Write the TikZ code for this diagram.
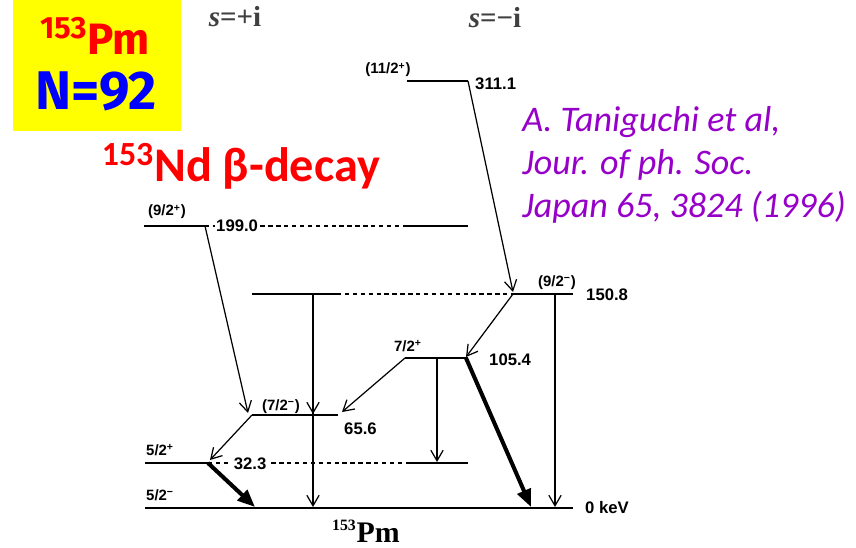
\documentclass[tikz,border=0pt]{standalone}
\usepackage{fontspec}
\setmainfont{Liberation Serif}
\newfontfamily\arialf{Liberation Sans}
\newfontfamily\calib{Carlito}
\newfontfamily\fira{Fira Sans}
\usetikzlibrary{arrows.meta}
\definecolor{citepurple}{RGB}{150,0,200}
\definecolor{boxyellow}{RGB}{255,255,0}

\begin{document}
\begin{tikzpicture}[x=0.02cm,y=-0.02cm,
  lev/.style={line width=1.1pt},
  dlev/.style={line width=0.6pt,dash pattern=on 2.5pt off 2pt},
  gam/.style={line width=0.7pt,-{Straight Barb[length=6pt,width=7pt]}},
  gamthick/.style={line width=2.3pt,-{Triangle[length=10pt,width=8pt]}},
  en/.style={font=\arialf\bfseries\fontsize{9.5}{10}\selectfont,inner sep=0.5pt,anchor=west},
  jp/.style={font=\arialf\bfseries\fontsize{8.5}{9}\selectfont,inner sep=0.5pt}]
\fill[white] (0,0) rectangle (856,548);
\useasboundingbox (0,0) rectangle (856,548);

% title box
\fill[boxyellow] (13,0) rectangle (181,131);
\node[text=red,font=\fira\bfseries\fontsize{25}{28}\selectfont] (pm) at (95,36) {\textsuperscript{153}Pm};
\node[text=blue,font=\fira\bfseries\fontsize{31}{33}\selectfont] (nn) at (96,91) {N=92};
\node[text=red,font=\calib\bfseries\fontsize{27.5}{30}\selectfont] (nd) at (241,166) {\textsuperscript{153}Nd {\bfseries β}-decay};

% signature labels
\node[font=\bfseries\fontsize{16.5}{19}\selectfont,text=black!75] (sp) at (235,17) {{\itshape s}=+i};
\node[font=\bfseries\fontsize{16.5}{19}\selectfont,text=black!75] (sm) at (495,18) {{\itshape s}=−i};

% reference
\node[text=citepurple,font=\calib\itshape\fontsize{20.5}{24.5}\selectfont,anchor=north west,align=left,inner sep=0] (ref) at (522,106)
  {A. Taniguchi et al,\\Jour. of ph. Soc.\\Japan 65, 3824 (1996)};

% level ends
\coordinate (a311) at (407,81);  \coordinate (b311) at (468,81);
\coordinate (a199) at (144,226); \coordinate (b199) at (205,226);
\coordinate (c199) at (407,226); \coordinate (d199) at (468,226);
\coordinate (a151) at (252,294); \coordinate (b151) at (337,294);
\coordinate (c151) at (513,294); \coordinate (d151) at (573,294);
\coordinate (a105) at (405,358); \coordinate (b105) at (468,358);
\coordinate (a66) at (252,415);  \coordinate (b66) at (338,415);
\coordinate (a32) at (145,463);  \coordinate (b32) at (208,463);
\coordinate (c32) at (410,463);  \coordinate (d32) at (468,463);
\coordinate (a0) at (145,508);   \coordinate (b0) at (573,508);

% levels
\draw[lev] (a311) -- (b311);
\draw[dlev] (b199) -- (c199);
\draw[lev] (a199) -- (b199);
\draw[lev] (c199) -- (d199);
\draw[dlev] (b151) -- (c151);
\draw[lev] (a151) -- (b151);
\draw[lev] (c151) -- (d151);
\draw[lev] (a105) -- (b105);
\draw[lev] (a66) -- (b66);
\draw[dlev] (b32) -- (c32);
\draw[lev] (a32) -- (b32);
\draw[lev] (c32) -- (d32);
\draw[lev] (a0) -- (b0);

% level labels
\node[jp] (j311) at (388,70) {(11/2\textsuperscript{+})};
\node[en] (e311) at (474,84) {311.1};
\node[jp] (j199) at (167,212) {(9/2\textsuperscript{+})};
\node[en,fill=white] (e199) at (215,226) {199.0};
\node[jp] (j151) at (557,283) {(9/2\textsuperscript{−})};
\node[en] (e151) at (585,295) {150.8};
\node[jp] (j105) at (408,346) {7/2\textsuperscript{+}};
\node[en] (e105) at (488,360) {105.4};
\node[jp] (j66) at (281,407) {(7/2\textsuperscript{−})};
\node[en] (e66) at (343,429) {65.6};
\node[jp,anchor=west] (j32) at (145,450) {5/2\textsuperscript{+}};
\node[en,fill=white,inner xsep=2pt] (e32) at (230,464) {32.3};
\node[jp,anchor=west] (j0) at (145,495) {5/2\textsuperscript{−}};
\node[en] (e0) at (584,508) {0 keV};
\node[font=\bfseries\fontsize{17}{18}\selectfont,anchor=base,inner sep=0] (nuc) at (366,542) {\textsuperscript{\fontsize{9}{9}\selectfont 153}Pm};

% transition ends
\coordinate (t151) at (513,292);
\coordinate (t105) at (466,357);
\coordinate (t66a) at (248,413);
\coordinate (t66b) at (342,412);
\coordinate (t32) at (210,460);
\coordinate (s151) at (313,294);  \coordinate (u66) at (313,414);  \coordinate (u0) at (313,507);
\coordinate (r151) at (555,294);  \coordinate (r0) at (555,507);
\coordinate (m105) at (437,358);  \coordinate (m32) at (437,462);
\coordinate (k105) at (466,358);  \coordinate (k0) at (531,507);
\coordinate (p0) at (255,507);

% transitions
\draw[gam] (b311) -- (t151);
\draw[gam] (b199) -- (t66a);
\draw[gam] (c151) -- (t105);
\draw[gam] (s151) -- (u66);
\draw[gam] (s151) -- (u0);
\draw[gam] (r151) -- (r0);
\draw[gam] (a105) -- (t66b);
\draw[gam] (m105) -- (m32);
\draw[gam] (a66) -- (t32);
\draw[gamthick] (k105) -- (k0);
\draw[gamthick] (b32) -- (p0);
\end{tikzpicture}
\end{document}
